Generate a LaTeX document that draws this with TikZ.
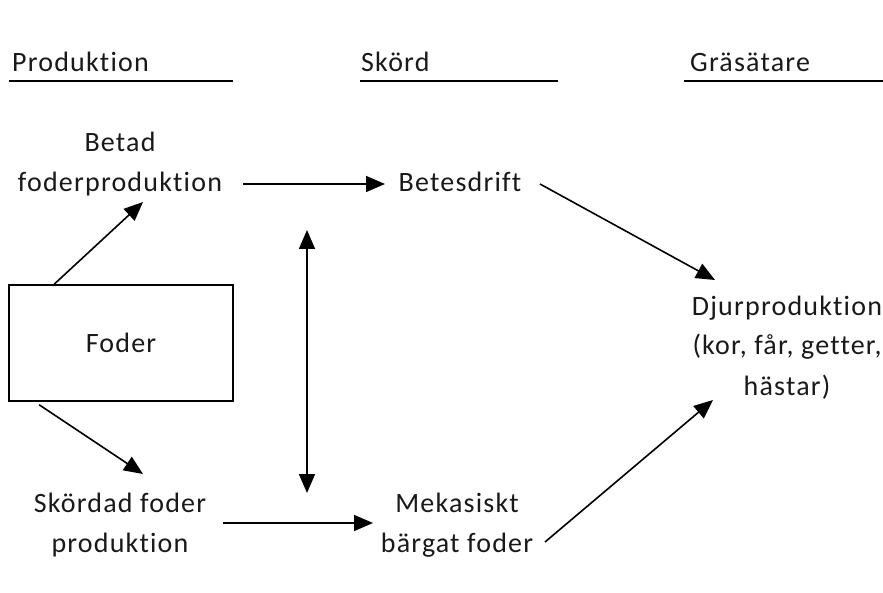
\documentclass[tikz,border=0pt]{standalone}
\usepackage{fontspec}
\setmainfont{Carlito}[LetterSpace=4.3, Ligatures=NoCommon]
\usetikzlibrary{arrows.meta}

\begin{document}
\begin{tikzpicture}[x=1pt, y=-1pt,
    txt/.style={inner sep=0pt, text=black!90, font=\fontsize{28}{40}\selectfont, align=center},
    head/.style={txt, anchor=base west},
    flow/.style={line width=1.6pt, -{Triangle[length=19pt, width=16pt]}},
    both/.style={line width=1.6pt, {Triangle[length=19pt, width=16pt]}-{Triangle[length=19pt, width=16pt]}}]
    \useasboundingbox (0,0) rectangle (883,593);

    % Column heads
    \node[head] (prodhead) at (12,72) {Produktion};
    \node[head] (skordhead) at (361,72) {Skörd};
    \node[head] (grashead) at (690,72) {Gräsätare};
    \draw[line width=1.6pt] ([shift={(-3,9)}]prodhead.base west) -- ++(224,0);
    \draw[line width=1.6pt] ([shift={(-1,9)}]skordhead.base west) -- ++(198,0);
    \draw[line width=1.6pt] ([shift={(-6,9)}]grashead.base west) -- ++(205,0);

    % Production
    \node[txt, anchor=base] (betad) at (120,192) {Betad\\foderproduktion};
    \node[draw, line width=1.6pt, minimum width=224pt, minimum height=116pt, txt] (foder) at (121,343) {Foder};
    \node[txt, anchor=base] (skordad) at (120,552) {Skördad foder\\produktion};

    % Harvest
    \node[txt, anchor=base] (betes) at (460,192) {Betesdrift};
    \node[txt, anchor=base] (mek) at (457,552) {Mekasiskt\\bärgat foder};

    % Herbivores
    \node[txt, anchor=base] (djur) at (787,395) {Djurproduktion\\(kor, får, getter,\\hästar)};

    % Arrows
    \draw[flow] ([shift={(46,0)}]foder.north west) -- ([shift={(23,10)}]betad.base);
    \draw[flow] ([shift={(31,3)}]foder.south west) -- ([shift={(23,-78)}]skordad.base);
    \draw[flow] ([shift={(123,-8)}]betad.base) -- ([shift={(-75,-8)}]betes.base);
    \draw[flow] ([shift={(103,-29)}]skordad.base) -- ([shift={(-84,-29)}]mek.base);
    \coordinate (upper) at (307,230);
    \coordinate (lower) at (307,493);
    \draw[both] (upper) -- (lower);
    \draw[flow] ([shift={(80,-8)}]betes.base) -- ([shift={(-72,-115)}]djur.base);
    \draw[flow] ([shift={(88,-10)}]mek.base) -- ([shift={(-74,5)}]djur.base);
\end{tikzpicture}
\end{document}
